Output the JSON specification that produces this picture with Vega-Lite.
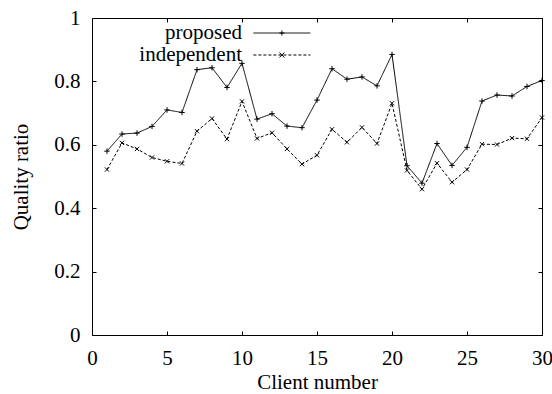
{
  "$schema": "https://vega.github.io/schema/vega-lite/v6.json",
  "width": 450,
  "height": 317,
  "autosize": {"type": "none"},
  "padding": {"left": 92, "top": 18, "right": 10, "bottom": 59},
  "background": "white",
  "config": {
    "view": {"stroke": "black", "strokeWidth": 1},
    "font": "Liberation Serif",
    "axis": {
      "domain": false,
      "grid": false,
      "tickColor": "black",
      "tickSize": -4,
      "tickWidth": 1,
      "labelFont": "Liberation Serif",
      "labelFontSize": 21,
      "labelColor": "black",
      "titleFont": "Liberation Serif",
      "titleFontSize": 21,
      "titleFontWeight": "normal",
      "titleColor": "black"
    },
    "legend": {
      "labelFont": "Liberation Serif",
      "labelFontSize": 21,
      "labelColor": "black"
    }
  },
  "data": {
    "values": [
      {"client": 1, "ratio": 0.580, "method": "proposed"},
      {"client": 2, "ratio": 0.634, "method": "proposed"},
      {"client": 3, "ratio": 0.637, "method": "proposed"},
      {"client": 4, "ratio": 0.658, "method": "proposed"},
      {"client": 5, "ratio": 0.710, "method": "proposed"},
      {"client": 6, "ratio": 0.702, "method": "proposed"},
      {"client": 7, "ratio": 0.837, "method": "proposed"},
      {"client": 8, "ratio": 0.843, "method": "proposed"},
      {"client": 9, "ratio": 0.781, "method": "proposed"},
      {"client": 10, "ratio": 0.857, "method": "proposed"},
      {"client": 11, "ratio": 0.681, "method": "proposed"},
      {"client": 12, "ratio": 0.698, "method": "proposed"},
      {"client": 13, "ratio": 0.659, "method": "proposed"},
      {"client": 14, "ratio": 0.654, "method": "proposed"},
      {"client": 15, "ratio": 0.741, "method": "proposed"},
      {"client": 16, "ratio": 0.840, "method": "proposed"},
      {"client": 17, "ratio": 0.807, "method": "proposed"},
      {"client": 18, "ratio": 0.814, "method": "proposed"},
      {"client": 19, "ratio": 0.786, "method": "proposed"},
      {"client": 20, "ratio": 0.885, "method": "proposed"},
      {"client": 21, "ratio": 0.534, "method": "proposed"},
      {"client": 22, "ratio": 0.479, "method": "proposed"},
      {"client": 23, "ratio": 0.604, "method": "proposed"},
      {"client": 24, "ratio": 0.535, "method": "proposed"},
      {"client": 25, "ratio": 0.592, "method": "proposed"},
      {"client": 26, "ratio": 0.738, "method": "proposed"},
      {"client": 27, "ratio": 0.757, "method": "proposed"},
      {"client": 28, "ratio": 0.754, "method": "proposed"},
      {"client": 29, "ratio": 0.784, "method": "proposed"},
      {"client": 30, "ratio": 0.803, "method": "proposed"},
      {"client": 1, "ratio": 0.522, "method": "independent"},
      {"client": 2, "ratio": 0.606, "method": "independent"},
      {"client": 3, "ratio": 0.587, "method": "independent"},
      {"client": 4, "ratio": 0.560, "method": "independent"},
      {"client": 5, "ratio": 0.548, "method": "independent"},
      {"client": 6, "ratio": 0.541, "method": "independent"},
      {"client": 7, "ratio": 0.643, "method": "independent"},
      {"client": 8, "ratio": 0.683, "method": "independent"},
      {"client": 9, "ratio": 0.618, "method": "independent"},
      {"client": 10, "ratio": 0.737, "method": "independent"},
      {"client": 11, "ratio": 0.620, "method": "independent"},
      {"client": 12, "ratio": 0.638, "method": "independent"},
      {"client": 13, "ratio": 0.587, "method": "independent"},
      {"client": 14, "ratio": 0.539, "method": "independent"},
      {"client": 15, "ratio": 0.567, "method": "independent"},
      {"client": 16, "ratio": 0.649, "method": "independent"},
      {"client": 17, "ratio": 0.608, "method": "independent"},
      {"client": 18, "ratio": 0.655, "method": "independent"},
      {"client": 19, "ratio": 0.604, "method": "independent"},
      {"client": 20, "ratio": 0.731, "method": "independent"},
      {"client": 21, "ratio": 0.519, "method": "independent"},
      {"client": 22, "ratio": 0.460, "method": "independent"},
      {"client": 23, "ratio": 0.542, "method": "independent"},
      {"client": 24, "ratio": 0.482, "method": "independent"},
      {"client": 25, "ratio": 0.522, "method": "independent"},
      {"client": 26, "ratio": 0.602, "method": "independent"},
      {"client": 27, "ratio": 0.601, "method": "independent"},
      {"client": 28, "ratio": 0.621, "method": "independent"},
      {"client": 29, "ratio": 0.619, "method": "independent"},
      {"client": 30, "ratio": 0.686, "method": "independent"}
    ]
  },
  "layer": [
    {
      "mark": {"type": "line", "color": "black", "strokeWidth": 1},
      "encoding": {
        "x": {"field": "client", "type": "quantitative", "scale": {"domain": [0, 30], "nice": false, "zero": false},
              "axis": {"orient": "bottom", "title": "Client number", "values": [0, 5, 10, 15, 20, 25, 30], "labelPadding": 16, "titlePadding": 3, "labelFlush": false}},
        "y": {"field": "ratio", "type": "quantitative", "scale": {"domain": [0, 1], "nice": false},
              "axis": {"orient": "left", "title": "Quality ratio", "values": [0, 0.2, 0.4, 0.6, 0.8, 1], "format": "~g", "labelPadding": 16, "titlePadding": 22, "labelFlush": false}},
        "strokeDash": {
          "field": "method", "type": "nominal",
          "scale": {"domain": ["proposed", "independent"], "range": [[1, 0], [3, 2]]},
          "legend": {
            "title": null,
            "orient": "none",
            "legendX": 179.4,
            "legendY": 4.5,
            "padding": 0,
            "rowPadding": 0,
            "symbolType": "M-5,0L5,0",
            "symbolSize": 130,
            "symbolStrokeColor": "black",
            "symbolStrokeWidth": 1,
            "labelAlign": "right",
            "labelBaseline": "middle",
            "labelOffset": -50.4
          }
        }
      }
    },
    {
      "mark": {"type": "point", "filled": false, "stroke": "black", "strokeWidth": 1, "opacity": 1},
      "encoding": {
        "x": {"field": "client", "type": "quantitative", "axis": null},
        "y": {"field": "ratio", "type": "quantitative", "axis": null},
        "shape": {
          "field": "method", "type": "nominal",
          "sort": ["proposed", "independent"],
          "scale": {"range": ["M-1,0L1,0M0,-1L0,1", "M-1,-1L1,1M-1,1L1,-1"]},
          "legend": {
            "title": null,
            "orient": "none",
            "legendX": 179.4,
            "legendY": 4.5,
            "padding": 0,
            "rowPadding": 0,
            "symbolSize": 25,
            "symbolStrokeColor": "black",
            "symbolStrokeWidth": 1,
            "symbolFillColor": "transparent",
            "labelOpacity": 0,
            "labelExpr": "''"
          }
        },
        "size": {
          "field": "method", "type": "nominal",
          "sort": ["proposed", "independent"],
          "scale": {"range": [30, 18]},
          "legend": null
        }
      }
    },
    {
      "mark": {"type": "point", "opacity": 0},
      "encoding": {
        "x": {"field": "client", "type": "quantitative",
              "axis": {"orient": "top", "labels": false, "title": null, "values": [0, 5, 10, 15, 20, 25, 30]}},
        "y": {"field": "ratio", "type": "quantitative",
              "axis": {"orient": "right", "labels": false, "title": null, "values": [0, 0.2, 0.4, 0.6, 0.8, 1]}}
      }
    }
  ],
  "resolve": {"axis": {"x": "independent", "y": "independent"}}
}
